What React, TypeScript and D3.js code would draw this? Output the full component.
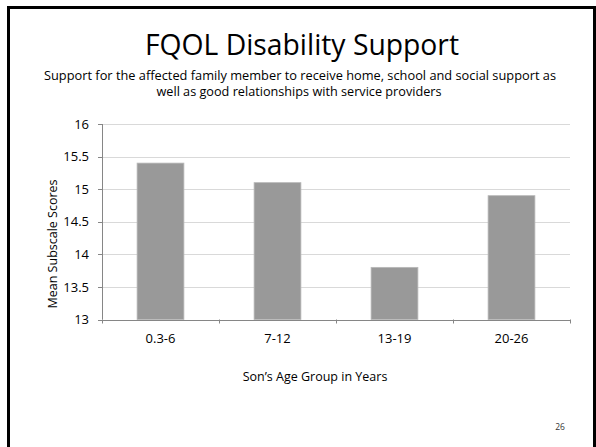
import React from "react";
import * as d3 from "d3";

const categories = ["0.3-6", "7-12", "13-19", "20-26"];
const values = [15.4, 15.1, 13.8, 14.9];
const yTicks = [13, 13.5, 14, 14.5, 15, 15.5, 16];
const title = "FQOL Disability Support";
const subtitleLines = [
  "Support for the affected family member to receive home, school and social support as",
  "well as good relationships with service providers",
];
const yTitle = "Mean Subscale Scores";
const xTitle = "Son\u2019s Age Group in Years";
const pageNumber = "26";

const W = 596;
const H = 447;
const plot = { left: 102, right: 570, top: 124, bottom: 319.5 };
const font = "'Open Sans', 'Noto Sans', sans-serif";

export default function App() {
  const x = d3
    .scaleBand<string>()
    .domain(categories)
    .range([plot.left, plot.right])
    .paddingInner(0.6)
    .paddingOuter(0.3);
  const y = d3.scaleLinear().domain([13, 16]).range([plot.bottom, plot.top]);
  const step = x.step();
  const boundaries = d3.range(categories.length + 1).map((i) => plot.left + i * step);

  return (
    <svg
      width={W}
      height={H}
      style={{ position: "absolute", left: 0, top: 0, background: "#fff" }}
      fontFamily={font}
    >
      <rect x={0} y={0} width={W} height={H} fill="#fff" />
      <rect x={8.5} y={7.5} width={586} height={H + 20} fill="none" stroke="#000" strokeWidth={3} />

      <text x={302} y={55} fontSize={29} textAnchor="middle" textLength={314} lengthAdjust="spacingAndGlyphs" fill="#000">
        {title}
      </text>
      <text x={300} y={80} fontSize={12.5} textAnchor="middle" textLength={512} lengthAdjust="spacingAndGlyphs" fill="#000">
        {subtitleLines[0]}
      </text>
      <text x={299} y={96} fontSize={12.5} textAnchor="middle" textLength={285} lengthAdjust="spacingAndGlyphs" fill="#000">
        {subtitleLines[1]}
      </text>

      {yTicks.map((t) => (
        <g key={t}>
          {t !== 13 && (
            <line x1={plot.left} x2={plot.right} y1={Math.round(y(t)) + 0.5} y2={Math.round(y(t)) + 0.5} stroke="#d9d9d9" strokeWidth={1} />
          )}
          <line x1={plot.left - 4} x2={plot.left} y1={Math.round(y(t)) + 0.5} y2={Math.round(y(t)) + 0.5} stroke="#868686" strokeWidth={1} />
          <text x={89} y={y(t)} dy="0.36em" fontSize={13} textAnchor="end" fill="#000">
            {String(t)}
          </text>
        </g>
      ))}

      {categories.map((c, i) => (
        <rect
          key={c}
          x={x(c)}
          y={y(values[i])}
          width={x.bandwidth()}
          height={y(13) - y(values[i])}
          fill="#999999"
          stroke="#b8b8b8"
          strokeWidth={0.8}
        />
      ))}

      <line x1={plot.left + 0.5} x2={plot.left + 0.5} y1={plot.top} y2={plot.bottom} stroke="#868686" strokeWidth={1} />
      <line x1={plot.left} x2={plot.right} y1={Math.round(plot.bottom) + 0.5} y2={Math.round(plot.bottom) + 0.5} stroke="#868686" strokeWidth={1} />
      {boundaries.map((b, i) => (
        <line key={i} x1={Math.round(b) + 0.5} x2={Math.round(b) + 0.5} y1={plot.bottom} y2={plot.bottom + 4} stroke="#868686" strokeWidth={1} />
      ))}
      {categories.map((c) => (
        <text key={c} x={(x(c) as number) + x.bandwidth() / 2} y={343} fontSize={13} textAnchor="middle" fill="#000">
          {c}
        </text>
      ))}

      <text transform={`translate(57,244) rotate(-90)`} fontSize={12.5} textAnchor="middle" fill="#000">
        {yTitle}
      </text>
      <text x={315} y={381} fontSize={12.5} textAnchor="middle" fill="#000">
        {xTitle}
      </text>
      <text x={560} y={430} fontSize={8.5} textAnchor="middle" fill="#333">
        {pageNumber}
      </text>
    </svg>
  );
}
